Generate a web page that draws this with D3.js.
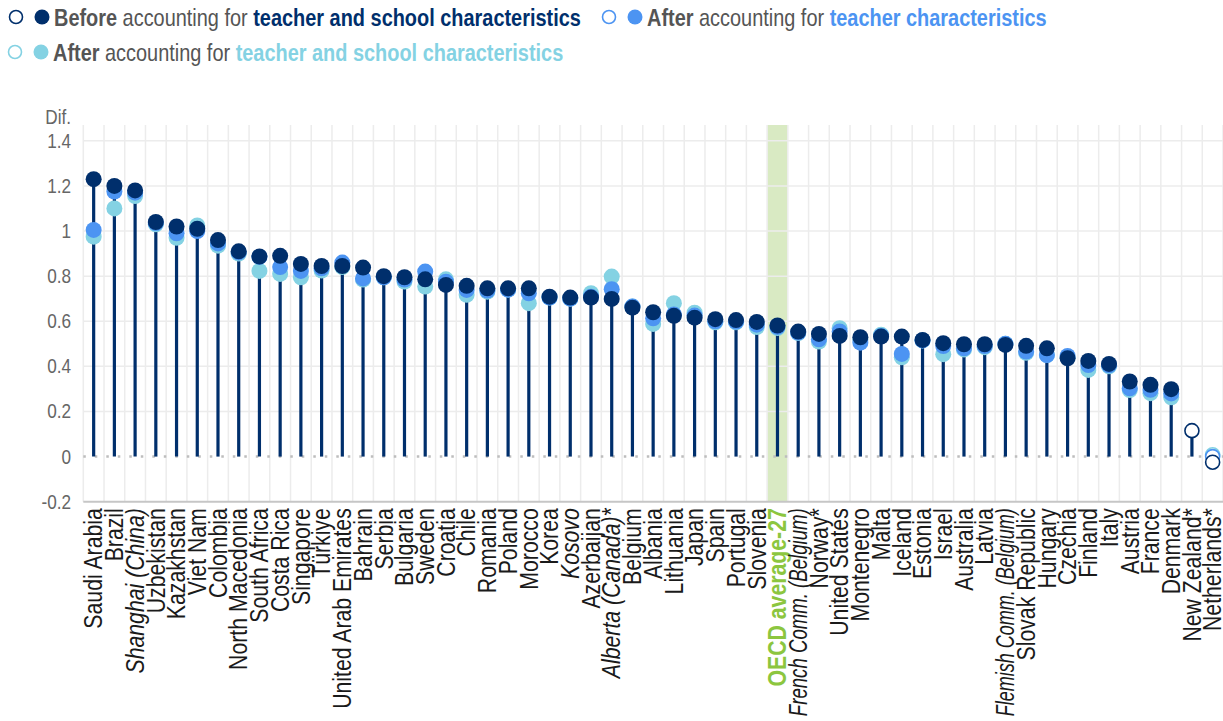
<!DOCTYPE html>
<html><head><meta charset="utf-8">
<script src="https://cdn.jsdelivr.net/npm/d3@7"></script>
<style>
body{margin:0;background:#fff;}
svg text{font-family:"Liberation Sans Narrow","Arial Narrow","Liberation Sans",Arial,sans-serif;}
</style></head><body><svg id="chart" width="1223" height="721"></svg>
<script>
const categories = ["Saudi Arabia","Brazil","Shanghai (China)","Uzbekistan","Kazakhstan","Viet Nam","Colombia","North Macedonia","South Africa","Costa Rica","Singapore","Türkiye","United Arab Emirates","Bahrain","Serbia","Bulgaria","Sweden","Croatia","Chile","Romania","Poland","Morocco","Korea","Kosovo","Azerbaijan","Alberta (Canada)*","Belgium","Albania","Lithuania","Japan","Spain","Portugal","Slovenia","OECD average-27","French Comm. (Belgium)","Norway*","United States","Montenegro","Malta","Iceland","Estonia","Israel","Australia","Latvia","Flemish Comm. (Belgium)","Slovak Republic","Hungary","Czechia","Finland","Italy","Austria","France","Denmark","New Zealand*","Netherlands*"];
const before = [1.23,1.20,1.18,1.04,1.02,1.01,0.96,0.91,0.887,0.89,0.854,0.845,0.845,0.838,0.80,0.795,0.786,0.761,0.757,0.746,0.746,0.746,0.709,0.705,0.705,0.699,0.66,0.64,0.624,0.616,0.609,0.605,0.597,0.581,0.554,0.544,0.535,0.529,0.532,0.532,0.517,0.503,0.498,0.498,0.495,0.491,0.48,0.436,0.424,0.411,0.333,0.318,0.299,0.115,-0.025];
const afterTeacher = [1.005,1.175,1.17,1.035,0.99,1.00,0.945,0.905,0.885,0.84,0.823,0.835,0.86,0.79,0.795,0.785,0.82,0.775,0.739,0.736,0.74,0.724,0.705,0.70,0.709,0.742,0.665,0.613,0.63,0.625,0.60,0.598,0.585,0.575,0.55,0.52,0.555,0.505,0.535,0.455,0.515,0.49,0.48,0.49,0.50,0.466,0.45,0.446,0.406,0.405,0.303,0.296,0.28,null,0.0];
const afterTeacherSchool = [0.975,1.10,1.155,1.03,0.97,1.025,0.935,0.90,0.823,0.81,0.795,0.825,0.84,0.785,0.795,0.776,0.754,0.786,0.717,0.731,0.74,0.68,0.705,0.70,0.724,0.798,0.665,0.588,0.68,0.638,0.595,0.595,0.574,0.57,0.548,0.51,0.569,0.52,0.54,0.44,0.515,0.454,0.475,0.485,0.50,0.46,0.45,0.44,0.384,0.40,0.295,0.281,0.263,null,0.008];
const notSignificant = ["New Zealand*","Netherlands*"];
const italicLabels = ["Shanghai (China)","Kosovo","Alberta (Canada)*","French Comm. (Belgium)","Flemish Comm. (Belgium)"];
const highlightCategory = "OECD average-27";
const yTicks = [-0.2,0,0.2,0.4,0.6,0.8,1,1.2,1.4];
const yTickLabels = ["-0.2","0","0.2","0.4","0.6","0.8","1","1.2","1.4"];
const yAxisTitle = "Dif.";

(function(){
const COL_NAVY = "#002f6c", COL_BLUE = "#4c94f2", COL_CYAN = "#84d2e3";
const NARROW = 0.85, LEG_NARROW = 0.83, MAX_LABEL = 208;
const series = [
  {name:"school", values: afterTeacherSchool, color: COL_CYAN},
  {name:"teacher", values: afterTeacher, color: COL_BLUE},
  {name:"before", values: before, color: COL_NAVY}
];

const svg = d3.select("#chart");
const pLeft = 83.3, pRight = 1223, pTop = 125, pBottom = 501.7;
const x = d3.scaleBand().domain(categories).range([pLeft, pRight]).padding(0);
const y = d3.scaleLinear().domain([-0.2, 1.47]).range([pBottom, pTop]);
const cx = c => x(c) + x.bandwidth()/2;

// highlight band
svg.append("rect").attr("x", x(highlightCategory)+0.4).attr("width", x.bandwidth()-0.8)
  .attr("y", pTop).attr("height", pBottom-pTop).attr("fill", "#d9eac3");

// grid
const g = svg.append("g");
g.selectAll("line.h").data(yTicks.filter(t=>t>-0.2 && t!==0)).join("line")
  .attr("x1", pLeft).attr("x2", pRight).attr("y1", d=>y(d)).attr("y2", d=>y(d))
  .attr("stroke", "#ececec").attr("stroke-width", 1.5);
const bounds = categories.map(c=>x(c)).concat([pRight]);
g.selectAll("line.v").data(bounds).join("line")
  .attr("x1", d=>d).attr("x2", d=>d).attr("y1", pTop).attr("y2", pBottom)
  .attr("stroke", "#ececec").attr("stroke-width", 1.5);

// zero line dotted
svg.append("line").attr("x1", pLeft).attr("x2", pRight).attr("y1", y(0)).attr("y2", y(0))
  .attr("stroke", "#bdbdbd").attr("stroke-width", 2.5).attr("stroke-dasharray", "2.5,9");
// axis line
svg.append("line").attr("x1", pLeft).attr("x2", pRight).attr("y1", pBottom).attr("y2", pBottom)
  .attr("stroke", "#c6c6c6").attr("stroke-width", 2);

// y tick labels
const ya = svg.append("g").attr("transform", `translate(71,0) scale(0.88,1)`);
ya.selectAll("text").data(yTicks).join("text")
  .attr("x", 0).attr("y", d=>y(d)).attr("dy", "0.36em").attr("text-anchor", "end")
  .attr("font-size", 19.5).attr("fill", "#666").text((d,i)=>yTickLabels[i]);
ya.append("text").attr("x", 0).attr("y", 124).attr("text-anchor","end")
  .attr("font-size", 19.5).attr("fill", "#666").text(yAxisTitle);

// stems
svg.append("g").selectAll("line").data(categories).join("line")
  .attr("x1", d=>cx(d)).attr("x2", d=>cx(d))
  .attr("y1", y(0)).attr("y2", (d,i)=>y(before[i]))
  .attr("stroke", COL_NAVY).attr("stroke-width", 3.2);

// dots
series.forEach(s=>{
  const pts = categories.map((c,i)=>({c, v:s.values[i]})).filter(p=>p.v!==null && p.v!==undefined);
  svg.append("g").selectAll("circle").data(pts).join("circle")
    .attr("cx", p=>cx(p.c)).attr("cy", p=>y(p.v))
    .attr("r", p=> notSignificant.includes(p.c) ? 7 : 8)
    .attr("fill", p=> notSignificant.includes(p.c) ? "#fff" : s.color)
    .attr("stroke", p=> notSignificant.includes(p.c) ? s.color : "none")
    .attr("stroke-width", 1.6);
});

// x labels
const xl = svg.append("g").selectAll("text").data(categories).join("text")
  .attr("transform", d=>`translate(${cx(d)},${pBottom+6.5}) rotate(-90) scale(${NARROW},1)`)
  .attr("dy", "0.35em").attr("text-anchor", "end")
  .attr("font-size", 25)
  .attr("font-style", d=> italicLabels.includes(d) ? "italic" : "normal")
  .attr("font-weight", d=> d===highlightCategory ? "bold" : "normal")
  .attr("fill", d=> d===highlightCategory ? "#8cc63f" : "#1a1a1a")
  .text(d=>d);
xl.each(function(){
  const len = this.getComputedTextLength() * NARROW;
  if (len > MAX_LABEL) {
    d3.select(this).attr("textLength", MAX_LABEL / NARROW).attr("lengthAdjust", "spacingAndGlyphs");
  }
});

// legend
const legendItems = [
  {x:16, y:17, color:COL_NAVY, lead:"Before", rest:"teacher and school characteristics"},
  {x:609, y:17, color:COL_BLUE, lead:"After", rest:"teacher characteristics"},
  {x:15, y:52, color:COL_CYAN, lead:"After", rest:"teacher and school characteristics"}
];
const lg = svg.append("g").selectAll("g").data(legendItems).join("g")
  .attr("transform", d=>`translate(${d.x},${d.y})`);
lg.append("circle").attr("r", 6.5).attr("fill","#fff").attr("stroke", d=>d.color).attr("stroke-width",1.6);
lg.append("circle").attr("cx", 26).attr("r", 7.5).attr("fill", d=>d.color);
const lt = lg.append("g").attr("transform", `translate(38,0) scale(${LEG_NARROW},1)`)
  .append("text").attr("x", 0).attr("dy","0.36em").attr("font-size", 24);
lt.append("tspan").attr("font-weight","bold").attr("fill","#555").text(d=>d.lead);
lt.append("tspan").attr("fill","#555").text(" accounting for ");
lt.append("tspan").attr("font-weight","bold").attr("fill", d=>d.color).text(d=>d.rest);
})();
</script></body></html>
